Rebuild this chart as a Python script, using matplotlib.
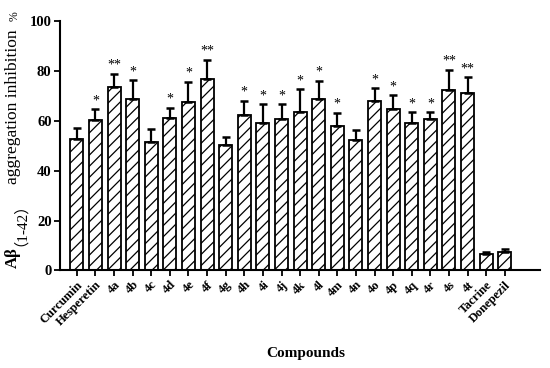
import numpy as np
import matplotlib
matplotlib.use("Agg")
import matplotlib.pyplot as plt

plt.rcParams["font.family"] = ["Liberation Serif", "Noto Sans CJK SC", "DejaVu Sans"]
plt.rcParams["hatch.linewidth"] = 0.9

compounds = ["Curcumin", "Hesperetin", "4a", "4b", "4c", "4d", "4e", "4f", "4g",
             "4h", "4i", "4j", "4k", "4l", "4m", "4n", "4o", "4p", "4q", "4r",
             "4s", "4t", "Tacrine", "Donepezil"]
inhibition = [52.6, 60.4, 73.7, 68.9, 51.4, 61.3, 67.4, 76.7, 50.3,
              62.4, 59.0, 60.8, 63.4, 68.8, 57.9, 52.3, 67.9, 64.6, 59.0, 60.6,
              72.4, 71.3, 6.7, 7.6]
sd = [4.4, 4.2, 5.1, 7.4, 5.4, 4.0, 8.3, 7.7, 3.1,
      5.7, 7.6, 5.8, 9.2, 7.2, 5.4, 4.1, 5.1, 5.6, 4.4, 2.8,
      8.0, 6.2, 0.8, 1.0]
stars = ["", "*", "**", "*", "", "*", "*", "**", "",
         "*", "*", "*", "*", "*", "*", "", "*", "*", "*", "*",
         "**", "**", "", ""]

fig = plt.figure(figsize=(5.5, 3.68), dpi=100)
ax = fig.add_axes([0.109, 0.265, 0.873, 0.678])

x = np.arange(len(compounds))
ax.bar(x, inhibition, width=0.7, color="white", edgecolor="black",
       linewidth=1.3, hatch="///", zorder=2)
ax.errorbar(x, inhibition, yerr=[np.zeros(len(sd)), sd], fmt="none",
            ecolor="black", elinewidth=1.6, capsize=3.2, capthick=1.8, zorder=3)

for xi, v, e, s in zip(x, inhibition, sd, stars):
    if s:
        ax.text(xi, v + e + 0.8, s, ha="center", va="bottom", fontsize=10)

ax.set_xlim(-0.91, 24.9)
ax.set_ylim(0, 100)
ax.set_yticks([0, 20, 40, 60, 80, 100])
ax.set_xticks(x)
ax.set_xticklabels(compounds, rotation=45, ha="right", rotation_mode="anchor",
                   fontsize=9, fontweight="bold")
for lab in ax.get_yticklabels():
    lab.set_fontsize(10.5)
    lab.set_fontweight("bold")

for side in ["top", "right"]:
    ax.spines[side].set_visible(False)
for side in ["left", "bottom"]:
    ax.spines[side].set_linewidth(1.5)
ax.tick_params(axis="both", width=1.3, length=4, direction="out", pad=2)

# y label in pieces: bold "Aβ", then the rest
ylab_x = 13 / 550
fig.text(ylab_x, 1 - 258 / 368, "Aβ", rotation=90, ha="center", va="center",
         fontsize=12, fontweight="bold")
fig.text(ylab_x, 1 - 217 / 368, "（1-42）", rotation=90, ha="center", va="center",
         fontsize=11)
fig.text(ylab_x, 1 - 107 / 368, "aggregation inhibition", rotation=90,
         ha="center", va="center", fontsize=12.5)
fig.text(ylab_x + 2 / 550, 1 - 16 / 368, "%", rotation=90, ha="center",
         va="center", fontsize=8.5)

fig.text(306 / 550, 1 - 353 / 368, "Compounds", ha="center", va="center",
         fontsize=11, fontweight="bold")

fig.savefig("out.png", dpi=100)
